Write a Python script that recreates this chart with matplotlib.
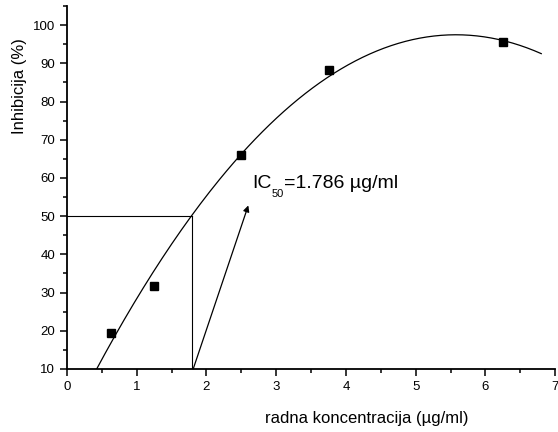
import numpy as np
import matplotlib.pyplot as plt
from matplotlib.ticker import MultipleLocator

plt.rcParams['font.family'] = ['Liberation Sans', 'DejaVu Sans']

# measured points
konc = [0.625, 1.25, 2.5, 3.75, 6.25]
inhib = [19.5, 31.8, 66.0, 88.3, 95.5]

ic50 = 1.786

# polynomial (2nd order) fit of the data, as in the original
coef = np.polyfit(konc, inhib, 2)
x_fit = np.linspace(0, 6.8, 200)
y_fit = np.polyval(coef, x_fit)

fig = plt.figure(figsize=(5.58, 4.32), dpi=100)
ax = fig.add_axes([0.12, 0.146, 0.875, 0.84])

ax.plot(x_fit, y_fit, color='black', lw=0.9)
ax.plot(konc, inhib, 's', color='black', markersize=5.2)

# IC50 guide lines
ax.plot([0, ic50], [50, 50], color='black', lw=0.8)
ax.plot([ic50, ic50], [50, 10], color='black', lw=0.8)
ax.annotate('', xy=(2.6, 52.8), xytext=(1.81, 10),
            arrowprops=dict(arrowstyle='-|>', color='black', lw=0.9,
                            mutation_scale=9, shrinkA=0, shrinkB=0))

# IC50 label, built in pieces so the subscript sits low like the original
t1 = ax.text(2.66, 57.4, 'IC', fontsize=14, va='baseline', ha='left')
t2 = ax.annotate('50', xy=(1, 0), xycoords=t1, xytext=(0, 2),
                 textcoords='offset points', fontsize=8, va='top', ha='left')
ax.annotate('=1.786 µg/ml', xy=(1, 0), xycoords=(t2, t1), fontsize=14,
            va='bottom', ha='left')

ax.set_xlim(0, 7)
ax.set_ylim(10, 105)
ax.xaxis.set_major_locator(MultipleLocator(1))
ax.xaxis.set_minor_locator(MultipleLocator(0.5))
ax.yaxis.set_major_locator(MultipleLocator(10))
ax.yaxis.set_minor_locator(MultipleLocator(5))
ax.spines['top'].set_visible(False)
ax.spines['right'].set_visible(False)
ax.spines['left'].set_linewidth(1.3)
ax.spines['bottom'].set_linewidth(1.3)
ax.tick_params(which='major', length=5, width=1.1, labelsize=9.5, direction='out')
ax.tick_params(which='minor', length=3, width=1.1, direction='out')

ax.set_xlabel('radna koncentracija (µg/ml)', fontsize=12)
ax.set_ylabel('Inhibicija (%)', fontsize=12)
ax.xaxis.set_label_coords(0.615, -0.115)
ax.yaxis.set_label_coords(-0.082, 0.78)

fig.savefig('out.png', dpi=100)
